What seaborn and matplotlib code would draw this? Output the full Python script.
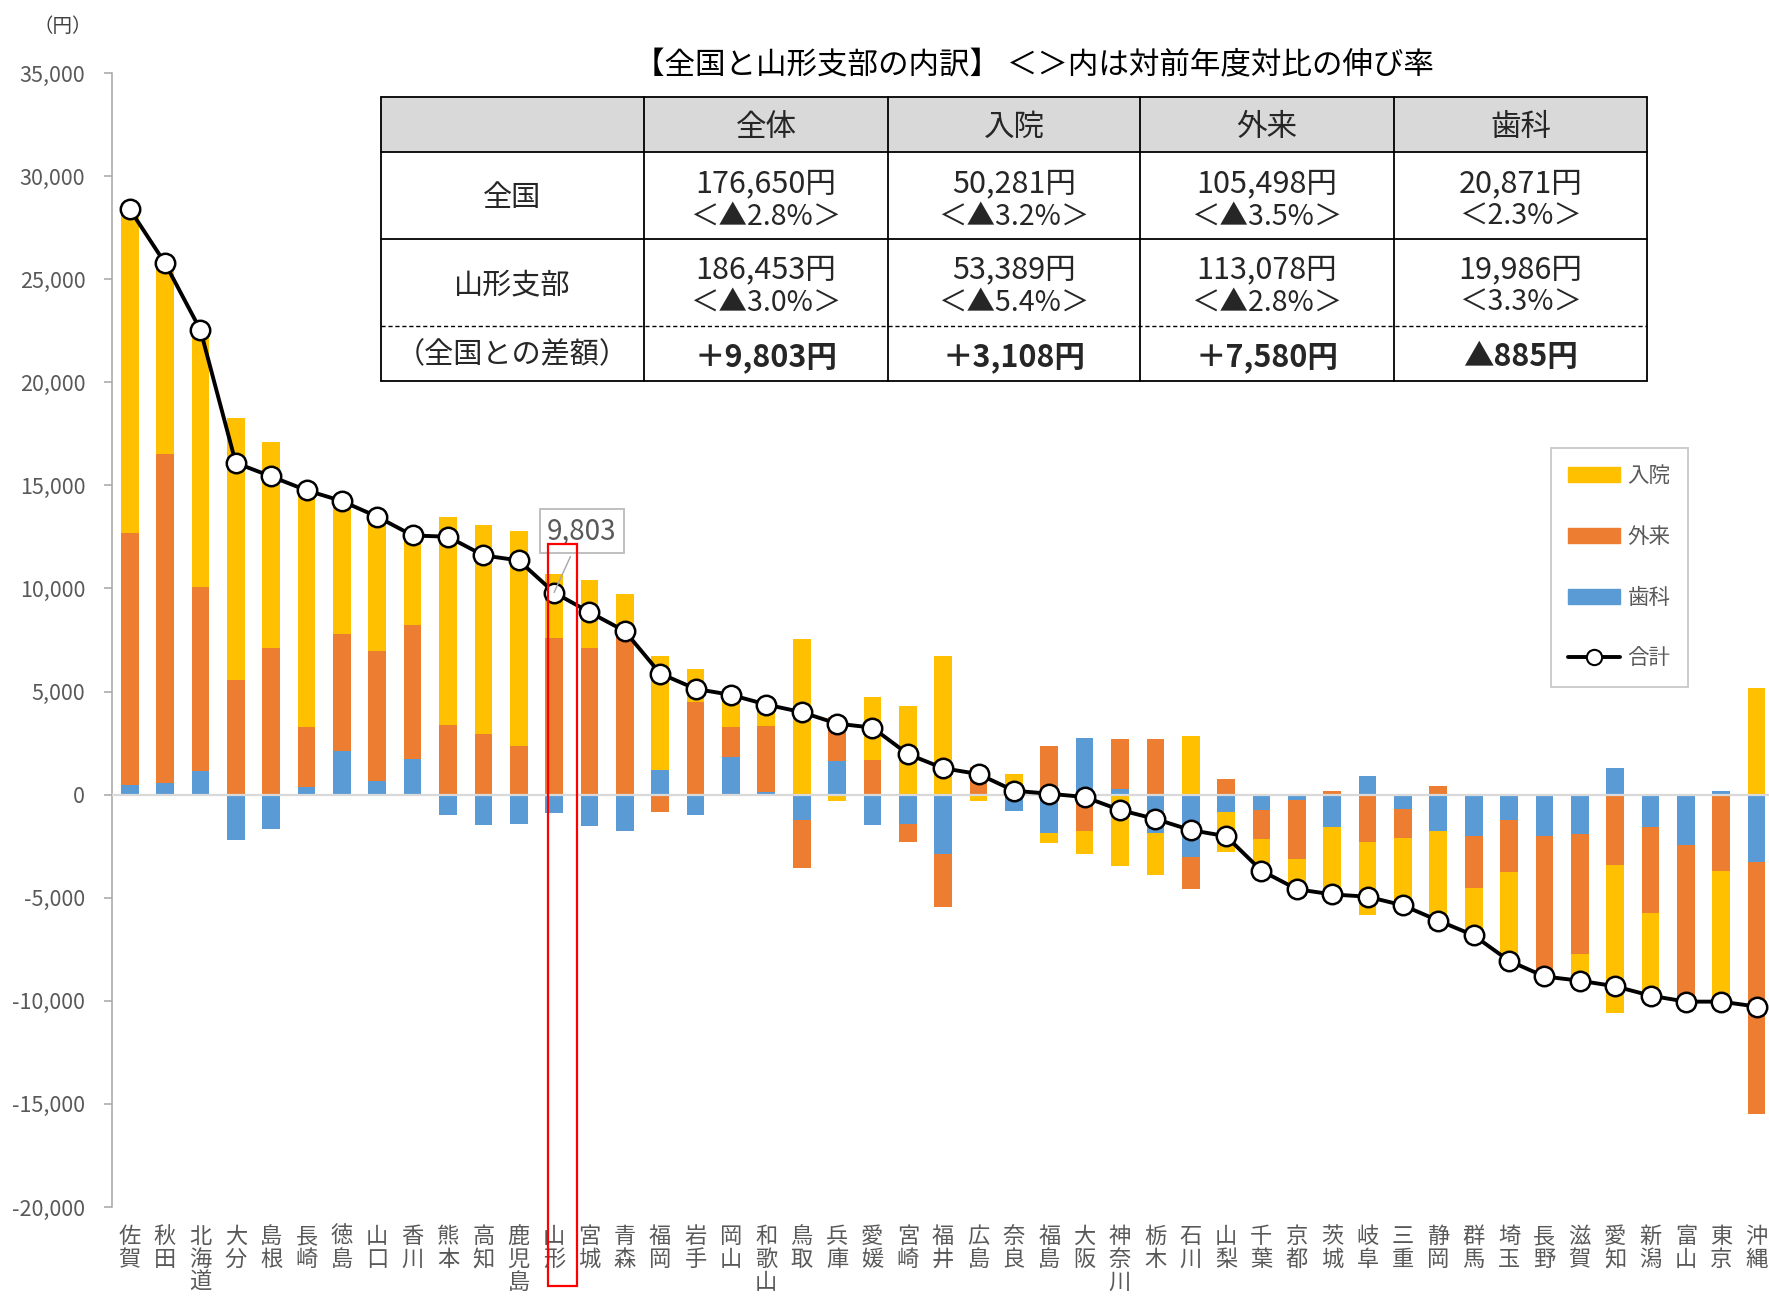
import numpy as np
import pandas as pd
import matplotlib
matplotlib.use("Agg")
import matplotlib.pyplot as plt
from matplotlib.patches import Patch, Rectangle
from matplotlib.lines import Line2D
from matplotlib.ticker import FuncFormatter
import seaborn as sns

# 都道府県（合計の降順）
PREFS = ['佐賀', '秋田', '北海道', '大分', '島根', '長崎', '徳島', '山口', '香川',
         '熊本', '高知', '鹿児島', '山形', '宮城', '青森', '福岡', '岩手', '岡山',
         '和歌山', '鳥取', '兵庫', '愛媛', '宮崎', '福井', '広島', '奈良', '福島',
         '大阪', '神奈川', '栃木', '石川', '山梨', '千葉', '京都', '茨城', '岐阜',
         '三重', '静岡', '群馬', '埼玉', '長野', '滋賀', '愛知', '新潟', '富山',
         '東京', '沖縄']

# 全国との差額（円）
NYUIN = [15700, 9240, 12460, 12700, 10000, 11490, 6470, 6525, 4320,
         10080, 10100, 10400, 3108, 3290, 2030, 5535, 1590, 1575,
         1055, 7570, -325, 3040, 4285, 6715, -320, 1000, -490,
         -1120, -3445, -2035, 2865, -1945, -1560, -1470, -3450, -3560,
         -3270, -4770, -2285, -4320, 0, -1305, -7200, -4030, 0,
         -6515, 5195]
GAIRAI = [12250, 15970, 8950, 5580, 7100, 2895, 5635, 6310, 6520,
          3400, 2960, 2380, 7580, 7100, 7680, -840, 4510, 1435,
          3185, -2355, 2120, 1700, -905, -2570, 1320, 0, 2380,
          -1745, 2425, 2700, -1555, 760, -1400, -2875, 185, -2300,
          -1405, 420, -2540, -2500, -6820, -5805, -3400, -4145, -7620,
          -3710, -12210]
SHIKA = [450, 570, 1130, -2190, -1665, 375, 2135, 645, 1730,
         -970, -1455, -1420, -885, -1540, -1780, 1180, -970, 1830,
         130, -1215, 1650, -1490, -1410, -2865, 0, -810, -1845,
         2750, 275, -1845, -3030, -830, -730, -240, -1575, 910,
         -695, -1760, -2000, -1240, -2000, -1915, 1305, -1575, -2420,
         185, -3265]

SERIES = ['入院', '外来', '歯科']
COLORS = {'入院': '#FFC000', '外来': '#ED7D31', '歯科': '#5B9BD5'}

TABLE_COLS = ['全体', '入院', '外来', '歯科']
TABLE_ROWS = ['全国', '山形支部', '（全国との差額）']
NATIONAL = ['176,650円', '50,281円', '105,498円', '20,871円']
NATIONAL_RATE = ['＜▲2.8%＞', '＜▲3.2%＞', '＜▲3.5%＞', '＜2.3%＞']
YAMAGATA = ['186,453円', '53,389円', '113,078円', '19,986円']
YAMAGATA_RATE = ['＜▲3.0%＞', '＜▲5.4%＞', '＜▲2.8%＞', '＜3.3%＞']
DIFF = ['＋9,803円', '＋3,108円', '＋7,580円', '▲885円']

HIGHLIGHT = '山形'
HIGHLIGHT_TOP, HIGHLIGHT_BOTTOM = 12180, -23830

sns.set_theme(style='white')
plt.rcParams['font.family'] = ['Noto Sans CJK JP', 'DejaVu Sans']
GRAY = '#595959'

df = pd.DataFrame({'pref': PREFS, '入院': NYUIN, '外来': GAIRAI, '歯科': SHIKA})
df['合計'] = df[SERIES].sum(axis=1)

fig = plt.figure(figsize=(17.69, 12.97), dpi=100)
ax = fig.add_axes([0.0631, 0.0694, 0.9369, 0.8743])

# stacking order from zero: 歯科, 外来, 入院 (positives up, negatives down)
stack = ['歯科', '外来', '入院']
pos = df[stack].clip(lower=0).cumsum(axis=1)
neg = df[stack].clip(upper=0).cumsum(axis=1)
for part in (pos, neg):
    for s in reversed(stack):
        sns.barplot(x=df['pref'], y=part[s], order=PREFS, color=COLORS[s],
                    saturation=1, width=0.5, errorbar=None, linewidth=0,
                    ax=ax, zorder=2)

ax.axhline(0, color='#d9d9d9', lw=1.6, zorder=3)

sns.lineplot(x=np.arange(len(PREFS)), y=df['合計'].values, color='black',
             lw=2.8, marker='o', markersize=14, markerfacecolor='white',
             markeredgecolor='black', markeredgewidth=1.8, ax=ax, zorder=5,
             legend=False)

ax.set_xlim(-0.51, 46.35)
ax.set_ylim(-20000, 35000)
ax.set_yticks(np.arange(-20000, 35001, 5000))
ax.yaxis.set_major_formatter(FuncFormatter(lambda v, p: f'{int(v):,}'))
ax.set_xticks(range(len(PREFS)))
ax.set_xticklabels(['\n'.join(p) for p in PREFS], linespacing=1.0)
ax.set_xlabel('')
ax.set_ylabel('')
for s in ['top', 'right', 'bottom']:
    ax.spines[s].set_visible(False)
ax.spines['left'].set_color('#a6a6a6')
ax.spines['left'].set_linewidth(1.1)
ax.tick_params(axis='y', left=True, length=6, width=1.1, color='#a6a6a6',
               labelsize=15.5, labelcolor=GRAY, pad=13)
ax.tick_params(axis='x', length=0, labelsize=16, labelcolor=GRAY, pad=13)
for t in ax.get_xticklabels():
    t.set_verticalalignment('top')

fig.text(0.019, 0.988, '（円）', fontsize=14, color='#404040', va='top')

# 山形 annotation and highlight box
hi = PREFS.index(HIGHLIGHT)
ax.annotate(f"{df['合計'][hi]:,}", xy=(hi, df['合計'][hi]),
            xytext=(20, 44), textcoords='offset points', ha='center',
            va='center', fontsize=20, color=GRAY,
            bbox=dict(boxstyle='square,pad=0.25', fc='white', ec='#bfbfbf', lw=1.4),
            arrowprops=dict(arrowstyle='-', color='#a6a6a6', lw=1.0, shrinkB=0),
            zorder=7)
ax.add_patch(Rectangle((hi - 0.18, HIGHLIGHT_BOTTOM), 0.84,
                       HIGHLIGHT_TOP - HIGHLIGHT_BOTTOM, fill=False,
                       ec='#ff0000', lw=1.6, clip_on=False, zorder=8))

# legend
handles = [Patch(color=COLORS[s]) for s in SERIES]
handles.append(Line2D([], [], color='black', lw=2.8, marker='o', markersize=11,
                      markerfacecolor='white', markeredgecolor='black',
                      markeredgewidth=1.5))
leg = ax.legend(handles, SERIES + ['合計'], loc='upper left',
                bbox_to_anchor=(0.8685, 0.6693), borderaxespad=0,
                fontsize=15.5, labelcolor=GRAY, frameon=True, fancybox=False,
                edgecolor='#bfbfbf', labelspacing=1.8, borderpad=0.8,
                handlelength=2.4, handletextpad=0.35, handleheight=0.7)
leg.get_frame().set_linewidth(1.4)

# summary table
fig.text(1034 / 1769, 1 - 66 / 1297,
         '【全国と山形支部の内訳】 ＜＞内は対前年度対比の伸び率',
         ha='center', va='center', fontsize=22, color='black')

tax = fig.add_axes([381 / 1769, 1 - 381 / 1297, 1266 / 1769, 284 / 1297])
tax.set_xlim(0, 1266)
tax.set_ylim(284, 0)
tax.axis('off')
xs = [0, 263, 507, 759, 1013, 1266]
tax.add_patch(Rectangle((0, 0), 1266, 55, fc='#d9d9d9', ec='none'))
for y in [0, 55, 142, 284]:
    tax.plot([0, 1266], [y, y], color='black', lw=1.3, clip_on=False)
tax.plot([0, 1266], [229, 229], color='black', lw=1.0, ls=(0, (3, 2)),
         clip_on=False)
for x in xs:
    tax.plot([x, x], [0, 284], color='black', lw=1.3, clip_on=False)

mid = [(xs[i] + xs[i + 1]) / 2 for i in range(5)]
for i, c in enumerate(TABLE_COLS):
    tax.text(mid[i + 1], 30, c, ha='center', va='center', fontsize=22)
for r, yc in zip(TABLE_ROWS, [101, 188, 258]):
    tax.text(mid[0], yc, r, ha='center', va='center', fontsize=21)
for i in range(4):
    tax.text(mid[i + 1], 87, NATIONAL[i], ha='center', va='center', fontsize=22)
    tax.text(mid[i + 1], 120, NATIONAL_RATE[i], ha='center', va='center', fontsize=20.5)
    tax.text(mid[i + 1], 173, YAMAGATA[i], ha='center', va='center', fontsize=22)
    tax.text(mid[i + 1], 206, YAMAGATA_RATE[i], ha='center', va='center', fontsize=20.5)
    tax.text(mid[i + 1], 260, DIFF[i], ha='center', va='center', fontsize=22,
             fontweight='bold')

fig.savefig('out.png', dpi=100)
